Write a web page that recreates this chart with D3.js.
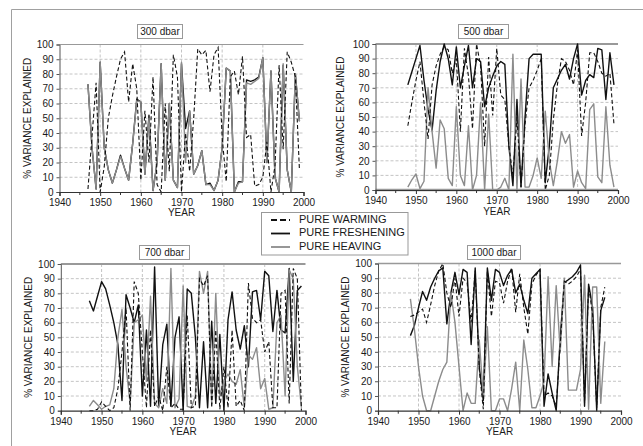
<!DOCTYPE html>
<html><head><meta charset="utf-8">
<script src="https://cdn.jsdelivr.net/npm/d3@7"></script>
<style>body{margin:0;background:#fff}svg{display:block;font-family:"Liberation Sans",Arial,sans-serif}</style>
</head><body><svg width="643" height="446"></svg>
<script>
// ---------- DATA ----------
const seriesNames = ["PURE WARMING", "PURE FRESHENING", "PURE HEAVING"];
const panelTitles = ["300 dbar", "500 dbar", "700 dbar", "1000 dbar"];
const xTickLabels = [1940, 1950, 1960, 1970, 1980, 1990, 2000];
const yTickLabels = [0, 10, 20, 30, 40, 50, 60, 70, 80, 90, 100];

const yearsP1 = [1947,1948,1949,1950,1951,1952,1953,1954,1955,1956,
  1957,1958,1959,1960,1961,1962,1963,1964,1965,1966,
  1967,1968,1969,1970,1971,1972,1973,1974,1975,1976,
  1977,1978,1979,1980,1981,1982,1983,1984,1985,1986,
  1987,1988,1989,1990,1991,1992,1993,1994,1995,1996,
  1997,1998,1999];
const warmP1 = [2,38,74,0,17,50,65,78,90,95,
  61,87,70,8,55,20,78,5,0,60,
  14,93,78,0,40,14,50,97,93,96,
  68,93,98,37,7,78,82,66,92,37,
  39,4,5,10,34,0,18,86,29,95,
  88,78,15];
const freshP1 = [73,30,2,88,30,15,6,15,25,16,
  8,33,63,61,12,52,1,20,87,8,
  60,8,3,87,43,55,12,18,28,5,
  6,1,8,30,84,82,0,7,7,76,
  75,76,78,91,20,82,10,0,86,15,
  0,80,48];
const heavP1 = [73,30,2,88,30,15,6,15,24,16,
  8,33,62,61,12,50,1,20,87,8,
  60,8,3,88,20,55,12,18,28,5,
  5,1,8,30,84,82,0,6,7,74,
  73,75,77,91,20,82,10,0,87,15,
  0,80,48];

const yearsP2 = [1948,1949,1950,1951,1952,1953,1954,1955,1956,1957,
  1958,1959,1960,1961,1962,1963,1964,1965,1966,1967,
  1968,1969,1970,1971,1972,1973,1974,1975,1976,1977,
  1978,1979,1980,1981,1982,1983,1984,1985,1986,1987,
  1988,1989,1990,1991,1992,1993,1994,1995,1996,1997,
  1998,1999];
const warmP2 = [44,60,75,88,60,35,72,85,93,98,
  96,80,90,40,97,78,42,100,85,30,
  91,51,97,65,62,30,10,50,2,45,
  70,75,82,90,0,10,48,72,90,88,
  82,72,96,37,60,94,94,88,80,78,
  80,45];
const freshP2 = [72,81,90,99,75,55,41,68,88,100,
  90,72,98,70,85,99,70,90,88,57,
  70,78,85,88,86,30,3,62,2,50,
  90,93,93,93,5,30,70,76,82,86,
  76,90,100,65,75,79,77,97,96,62,
  94,72];
const heavP2 = [2,7,11,1,6,70,40,15,48,42,
  8,3,57,10,3,44,0,10,60,0,
  52,0,0,2,8,0,93,0,76,2,
  2,10,22,8,54,20,3,20,40,32,
  38,2,13,5,1,55,59,9,5,57,
  17,2];

const yearsP3 = yearsP1;
const warmP3 = [0,0,1,6,3,0,2,15,40,70,
  0,88,80,40,2,55,3,10,0,30,
  2,5,1,1,65,2,3,90,85,92,
  2,55,1,30,2,55,3,7,0,87,
  63,60,62,40,47,2,2,80,82,5,
  97,90,0];
const freshP3 = [75,68,78,88,83,72,60,45,7,79,
  70,60,72,10,55,3,98,3,45,59,
  3,50,64,0,83,80,50,2,47,2,
  61,5,52,0,62,81,55,42,58,30,
  81,82,62,95,92,54,82,55,53,97,
  20,82,85];
const heavP3 = [3,7,4,1,3,4,15,50,69,30,
  5,60,62,65,20,78,5,2,15,5,
  97,2,8,85,3,2,10,95,80,95,
  5,80,10,20,25,20,18,28,2,38,
  35,43,15,22,1,2,60,65,10,96,
  90,30,2];

const yearsP4 = [1948,1949,1950,1951,1952,1953,1954,1955,1956,1957,
  1958,1959,1960,1961,1962,1963,1964,1965,1966,1967,
  1968,1969,1970,1971,1972,1973,1974,1975,1976,1977,
  1978,1979,1980,1981,1982,1983,1984,1985,1986,1987,
  1988,1989,1990,1991,1992,1993,1994,1995,1996];
const warmP4 = [64,65,67,69,60,72,85,95,100,80,
  70,90,64,90,87,60,95,28,1,95,
  64,88,87,73,88,97,67,93,70,52,
  86,92,96,10,12,10,3,45,88,86,
  88,91,96,5,85,65,2,70,84];
const freshP4 = [51,58,70,81,75,84,90,95,97,59,
  80,94,79,96,94,45,97,30,7,97,
  75,96,94,85,92,96,80,86,75,66,
  90,93,96,3,25,12,0,50,87,89,
  91,94,99,3,86,70,0,68,77];
const heavP4 = [76,55,30,10,0,0,10,20,28,33,
  80,60,30,0,12,5,5,48,10,57,
  0,0,8,8,0,15,33,0,48,28,
  2,2,10,20,91,30,85,40,90,14,
  14,14,28,92,1,84,84,5,47];

// ---------- LAYOUT ----------
const svg = d3.select("svg");
svg.append("rect").attr("width",643).attr("height",446).attr("fill","#fff");
svg.append("path").attr("d","M11.5,446 V9.5 H643").attr("fill","none").attr("stroke","#a0a0a0").attr("stroke-width",1);

const panels = [
  {title:panelTitles[0], years:yearsP1, w:warmP1, f:freshP1, h:heavP1, x0:59.5, x1:303.5, yb:192, yt:44.5, box:[137,24,45,14], ylabX:28, yearY:213, topW:1, bot:false},
  {title:panelTitles[1], years:yearsP2, w:warmP2, f:freshP2, h:heavP2, x0:375.5, x1:618, yb:190, yt:44, box:[458,24,50,14], ylabX:341, yearY:212, topW:2, bot:true},
  {title:panelTitles[2], years:yearsP3, w:warmP3, f:freshP3, h:heavP3, x0:60.8, x1:305.5, yb:410.7, yt:264, box:[139,245,50,14], ylabX:29.5, yearY:432, topW:2, bot:false},
  {title:panelTitles[3], years:yearsP4, w:warmP4, f:freshP4, h:heavP4, x0:378, x1:621, yb:410.7, yt:263.5, box:[467,245,53,14], ylabX:346, yearY:432, topW:1.5, bot:false}
];

const textCol = "#1a1a1a";
const gridCol = "#b5b5b5";
const heavCol = "#8c8c8c";

panels.forEach(p => {
  const x = d3.scaleLinear().domain([1940, 2000]).range([p.x0, p.x1]);
  const y = d3.scaleLinear().domain([0, 100]).range([p.yb, p.yt]);
  const g = svg.append("g");

  // grid
  g.selectAll(".hg").data(yTickLabels.filter(v => v > 0 && v < 100)).join("line")
    .attr("x1", p.x0).attr("x2", p.x1).attr("y1", d => y(d)).attr("y2", d => y(d))
    .attr("stroke", gridCol).attr("stroke-width", 0.8).attr("stroke-dasharray", "3,2");
  g.selectAll(".vg").data(xTickLabels.filter(v => v > 1940 && v < 2000)).join("line")
    .attr("x1", d => x(d)).attr("x2", d => x(d)).attr("y1", p.yt).attr("y2", p.yb)
    .attr("stroke", gridCol).attr("stroke-width", 0.8).attr("stroke-dasharray", "3,2");

  // top border
  g.append("line").attr("x1", p.x0).attr("x2", p.x1).attr("y1", p.yt).attr("y2", p.yt)
    .attr("stroke", "#999").attr("stroke-width", p.topW);
  if (p.bot) {
    g.append("line").attr("x1", p.x0).attr("x2", p.x1).attr("y1", p.yb).attr("y2", p.yb)
      .attr("stroke", "#999").attr("stroke-width", 2.5);
  }

  // series
  const mk = vals => d3.line().x((d, i) => x(p.years[i])).y(d => y(d))(vals);
  g.append("path").attr("d", mk(p.f)).attr("fill", "none").attr("stroke", "#111").attr("stroke-width", 1.4).attr("stroke-linejoin","round");
  g.append("path").attr("d", mk(p.h)).attr("fill", "none").attr("stroke", heavCol).attr("stroke-width", 1.4).attr("stroke-linejoin","round");
  g.append("path").attr("d", mk(p.w)).attr("fill", "none").attr("stroke", "#111").attr("stroke-width", 1.1).attr("stroke-dasharray", "4,2.5");

  // axes
  const ya = g.append("g").attr("transform", `translate(${p.x0},0)`)
    .call(d3.axisLeft(y).tickValues(yTickLabels).tickSize(3).tickPadding(3));
  ya.select(".domain").attr("stroke", "#555");
  ya.selectAll(".tick line").attr("stroke", "#555");
  ya.selectAll("text").attr("font-size", "10px").attr("fill", textCol).attr("font-family", "Liberation Sans, Arial, sans-serif");

  const xa = g.append("g").attr("transform", `translate(0,${p.yb})`)
    .call(d3.axisBottom(x).tickValues(xTickLabels).tickFormat(d3.format("d")).tickSize(4).tickPadding(3));
  xa.select(".domain").attr("stroke", "#333").attr("stroke-width", 1.2);
  xa.selectAll(".tick line").attr("stroke", "#333");
  xa.selectAll("text").attr("font-size", "10px").attr("fill", textCol).attr("font-family", "Liberation Sans, Arial, sans-serif");
  // minor ticks at half-decades
  g.selectAll(".mt").data([1945,1955,1965,1975,1985,1995]).join("line")
    .attr("x1", d => x(d)).attr("x2", d => x(d)).attr("y1", p.yb).attr("y2", p.yb + 3)
    .attr("stroke", "#333");

  // labels
  g.append("text").attr("x", (p.x0 + p.x1) / 2).attr("y", p.yearY).attr("text-anchor", "middle")
    .attr("dominant-baseline", "middle").attr("font-size", "10px").attr("fill", textCol).text("YEAR");
  g.append("text").attr("transform", `translate(${p.ylabX},${(p.yt + p.yb) / 2}) rotate(-90)`)
    .attr("text-anchor", "middle").attr("dominant-baseline", "middle").attr("font-size", "10px")
    .attr("fill", textCol).text("% VARIANCE EXPLAINED");

  // title box
  g.append("rect").attr("x", p.box[0] + 0.5).attr("y", p.box[1] + 0.5).attr("width", p.box[2]).attr("height", p.box[3])
    .attr("fill", "#fff").attr("stroke", "#999");
  g.append("text").attr("x", p.box[0] + 0.5 + p.box[2] / 2).attr("y", p.box[1] + 0.5 + p.box[3] / 2 + 0.5)
    .attr("text-anchor", "middle").attr("dominant-baseline", "middle").attr("font-size", "10px")
    .attr("fill", textCol).text(p.title);
});

// legend
const lg = svg.append("g");
lg.append("rect").attr("x", 261.5).attr("y", 212.5).attr("width", 146.5).attr("height", 42.5)
  .attr("fill", "#fff").attr("stroke", "#999");
const legStyles = [
  {c:"#111", w:1.8, dash:"6,3"},
  {c:"#111", w:1.8, dash:null},
  {c:heavCol, w:1.8, dash:null}
];
const legY = [220, 233.5, 247];
seriesNames.forEach((name, i) => {
  const s = legStyles[i];
  const ln = lg.append("line").attr("x1", 271).attr("x2", 290).attr("y1", legY[i]).attr("y2", legY[i])
    .attr("stroke", s.c).attr("stroke-width", s.w);
  if (s.dash) ln.attr("stroke-dasharray", s.dash);
  lg.append("text").attr("x", 299).attr("y", legY[i]).attr("dominant-baseline", "middle")
    .attr("font-size", "11px").attr("fill", textCol).text(name);
});
</script>
</body></html>
